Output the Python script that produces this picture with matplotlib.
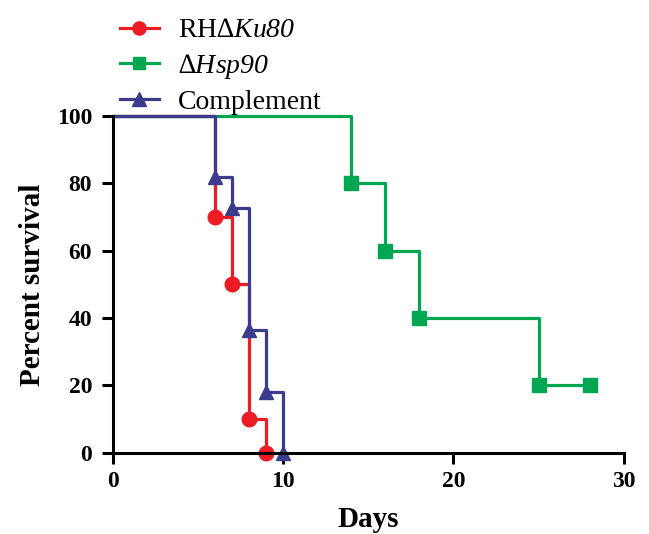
import matplotlib
matplotlib.use("Agg")
import matplotlib.pyplot as plt

# survival data (percent)
ku80_days = [0, 6, 7, 8, 9]
ku80_surv = [100, 70, 50, 10, 0]
hsp90_days = [0, 14, 16, 18, 25, 28]
hsp90_surv = [100, 80, 60, 40, 20, 20]
comp_days = [0, 6, 7, 8, 9, 10]
comp_surv = [100, 81.8, 72.7, 36.4, 18.2, 0]

labels = ['RH$\\mathsf{\u2206Ku80}$', '$\\mathsf{\u2206Hsp90}$', 'Complement']
xticks = [0, 10, 20, 30]
yticks = [0, 20, 40, 60, 80, 100]

RED = '#ED1C24'
GREEN = '#00A651'
BLUE = '#3C3C8E'

plt.rcParams['font.family'] = ['Liberation Serif', 'DejaVu Serif']
plt.rcParams['mathtext.fontset'] = 'custom'
plt.rcParams['mathtext.rm'] = 'Liberation Serif'
plt.rcParams['mathtext.it'] = 'Liberation Serif:italic'
# sf slot used for italic text incl. digits
plt.rcParams['mathtext.sf'] = 'Liberation Serif:italic'

fig = plt.figure(figsize=(6.49, 5.34), dpi=100)
ax = fig.add_axes([0.174, 0.152, 0.787, 0.631])

def km(days, surv, color, marker, label, ms):
    ax.step(days, surv, where='post', color=color, lw=2.3, clip_on=False)
    ax.plot(days[1:], surv[1:], ls='none', marker=marker, color=color,
            ms=ms, clip_on=False)
    # handle for legend only
    ax.plot([], [], color=color, lw=2.3, marker=marker, ms=ms - 1, label=label)

km(ku80_days, ku80_surv, RED, 'o', labels[0], 10.5)
km(hsp90_days, hsp90_surv, GREEN, 's', labels[1], 9.5)
km(comp_days, comp_surv, BLUE, '^', labels[2], 10.5)

ax.set_xlim(0, 30)
ax.set_ylim(0, 100)
ax.set_xticks(xticks)
ax.set_yticks(yticks)
ax.spines['top'].set_visible(False)
ax.spines['right'].set_visible(False)
for s in ['left', 'bottom']:
    ax.spines[s].set_linewidth(2.2)
ax.tick_params(width=2.2, length=8, labelsize=17)
ax.tick_params(axis='y', pad=7)
ax.tick_params(axis='x', pad=5)
for lab in ax.get_xticklabels() + ax.get_yticklabels():
    lab.set_fontweight('bold')

ax.set_xlabel('Days', fontsize=21, fontweight='bold', labelpad=10)
ax.set_ylabel('Percent survival', fontsize=21, fontweight='bold', labelpad=8)

leg = ax.legend(loc='upper left', bbox_to_anchor=(120 / 649, 1 - 18 / 534),
                bbox_transform=fig.transFigure, frameon=False, fontsize=20,
                handlelength=1.4, labelspacing=0.3, handletextpad=0.7,
                borderaxespad=0, borderpad=0)

fig.savefig('out.png', dpi=100)
